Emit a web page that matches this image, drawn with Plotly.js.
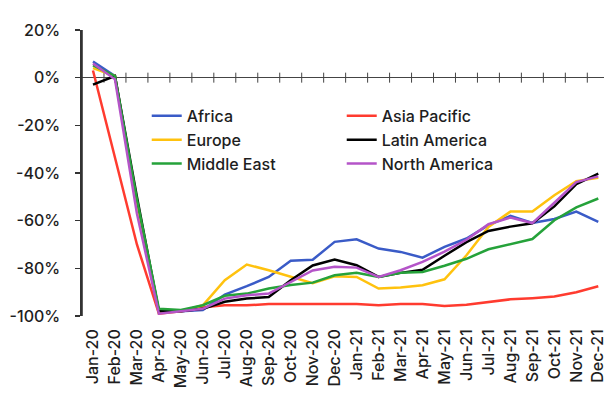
<!DOCTYPE html>
<html>
<head>
<meta charset="utf-8">
<script src="https://cdn.plot.ly/plotly-3.0.1.min.js"></script>
<style>html,body{margin:0;padding:0;background:#fff;}#chart{width:604px;height:407px;}</style>
</head>
<body>
<div id="chart"></div>
<script>
var months = ["Jan-20","Feb-20","Mar-20","Apr-20","May-20","Jun-20","Jul-20","Aug-20","Sep-20","Oct-20","Nov-20","Dec-20",
              "Jan-21","Feb-21","Mar-21","Apr-21","May-21","Jun-21","Jul-21","Aug-21","Sep-21","Oct-21","Nov-21","Dec-21"];
var africa       = [6.8, 0.7, -52, -98, -98, -97.5, -91, -87.5, -83.6, -76.8, -76.4, -68.9, -67.8, -71.7, -73.1, -75.5, -71, -67.5, -61.9, -58, -61, -59.3, -56.2, -60.5];
var asiaPacific  = [3, -33, -70, -99, -98, -96.3, -95.5, -95.5, -95, -95, -95, -95, -95, -95.5, -95, -95, -95.8, -95.3, -94.3, -93, -92.5, -91.8, -90, -87.5];
var europe       = [4, 0.7, -53, -98.5, -98, -95.5, -85, -78.4, -80.8, -83.6, -86.2, -83.3, -83.6, -88.5, -88, -87.1, -84.6, -74.5, -62.6, -56.2, -56.2, -49.3, -43.4, -42];
var latinAmerica = [-2.9, 0.7, -50, -98, -98, -97, -94, -92.7, -92, -85, -78.8, -76.3, -78.7, -83.6, -81.9, -80.6, -74.7, -69, -64.3, -62.5, -61.1, -54, -44.7, -40.3];
var middleEast   = [5.2, 0.7, -51, -97, -97.5, -95.5, -91.5, -90.6, -88.5, -87, -86, -82.9, -81.9, -83.6, -81.9, -81.5, -78.9, -76, -72, -70, -67.7, -59.8, -54.4, -50.7];
var northAmerica = [5.9, -0.7, -57, -99, -98, -97, -92.7, -91.3, -90.6, -85.6, -80.9, -79.3, -79.7, -83.6, -80.8, -77.3, -73, -68, -61.5, -58.7, -61, -52.5, -43.8, -41.4];
var yTicks = [-100, -80, -60, -40, -20, 0, 20];
var yTickText = yTicks.map(function(v){ return v + "%"; });

var seriesNames = ["Africa","Asia Pacific","Europe","Latin America","Middle East","North America"];
var seriesData = [africa, asiaPacific, europe, latinAmerica, middleEast, northAmerica];
var seriesColors = ["#3A5BC7","#FF3B2F","#FFC20E","#000000","#25A23A","#B454C8"];

var traces = seriesNames.map(function(n, i){
  return {type:"scatter", mode:"lines", name:n, x:months, y:seriesData[i],
          line:{color:seriesColors[i], width:2.5}, hoverinfo:"skip"};
});

// crossing tick marks on the zero line, between categories
var shapes = [];
for (var i = 0; i < months.length - 1; i++) {
  shapes.push({type:"line", xref:"x", yref:"y", x0:i + 0.5, x1:i + 0.5,
               ysizemode:"pixel", yanchor:0, y0:-5, y1:5,
               line:{color:"#444", width:1}, layer:"below"});
}
// vertical axis line at the left edge of the plot area
shapes.push({type:"line", xref:"paper", yref:"paper", x0:0, x1:0, y0:0, y1:1,
             line:{color:"#333", width:1.6}, layer:"above"});

var xr = [-0.5, 23.26];
var font = {family:"Inter, 'Liberation Sans', Arial, sans-serif", size:16, color:"#1e1e1e", weight:500};

var layout = {
  width:604, height:407,
  margin:{l:82, r:0, t:30, b:91, pad:0},
  paper_bgcolor:"#fff", plot_bgcolor:"#fff",
  font:font,
  showlegend:true,
  legend:{orientation:"h", x:0.124, xanchor:"left", y:0.759, yanchor:"top",
          entrywidth:150, entrywidthmode:"pixels", font:font, bgcolor:"rgba(0,0,0,0)", borderwidth:0},
  shapes:shapes,
  xaxis:{type:"category", range:xr, showline:false, ticks:"", showgrid:false, zeroline:false,
         tickangle:-90, tickfont:font, ticklabelstandoff:9, fixedrange:true},
  yaxis:{range:[yTicks[0], yTicks[yTicks.length-1]], tickmode:"array", tickvals:yTicks, ticktext:yTickText,
         showline:true, linecolor:"#333", linewidth:1.6, ticks:"outside", ticklen:5, tickwidth:1.2, tickcolor:"#333",
         showgrid:false, zeroline:true, zerolinecolor:"#444", zerolinewidth:1,
         tickfont:font, ticklabelstandoff:12, fixedrange:true}
};

Plotly.newPlot("chart", traces, layout, {displayModeBar:false, staticPlot:true});
</script>
</body>
</html>
